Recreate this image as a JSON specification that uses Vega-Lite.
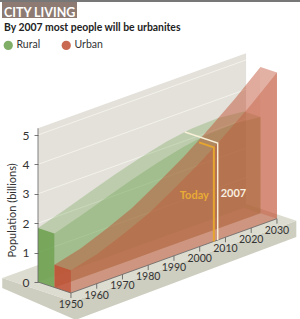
{"$schema":"https://vega.github.io/schema/vega-lite/v6.json","width":300,"height":319,"padding":0,"autosize":{"type":"none"},"background":"white",
"config":{"view":{"stroke":null},"font":"Lato"},
"title":{"text":"CITY LIVING","subtitle":"By 2007 most people will be urbanites","anchor":"start","frame":"group","offset":0,"dx":4,"dy":33,"font":"Lato","fontSize":12.5,"fontWeight":"bold","color":"#ffffff","subtitleFont":"Lato","subtitleFontSize":10.4,"subtitleFontWeight":"bold","subtitleColor":"#222222","subtitlePadding":3},
"datasets":{
"frame":[
{"part":"side","step":1,"year":1945.6,"billions":0,"depth":-1.48},{"part":"side","step":2,"year":1945.6,"billions":-0.34,"depth":-1.48},{"part":"side","step":3,"year":1946.7,"billions":-0.66,"depth":2.8},{"part":"side","step":4,"year":2032.4,"billions":-0.55,"depth":2.8},{"part":"side","step":5,"year":2032.4,"billions":0,"depth":2.8},{"part":"side","step":6,"year":1945.6,"billions":0,"depth":2.8},
{"part":"floor","step":1,"year":1945.6,"billions":0,"depth":-1.48},{"part":"floor","step":2,"year":1945.6,"billions":0,"depth":2.8},{"part":"floor","step":3,"year":2032.4,"billions":0,"depth":2.8},{"part":"floor","step":4,"year":2032.4,"billions":0,"depth":-1.48},
{"part":"wall","step":1,"year":1950,"billions":0,"depth":0},{"part":"wall","step":2,"year":1950,"billions":5.23,"depth":0},{"part":"wall","step":3,"year":2030.8,"billions":5.23,"depth":0},{"part":"wall","step":4,"year":2030.8,"billions":0,"depth":0},
{"part":"grid1","step":1,"year":1950,"billions":1,"depth":0},{"part":"grid1","step":2,"year":2030.8,"billions":1,"depth":0},
{"part":"grid2","step":1,"year":1950,"billions":2,"depth":0},{"part":"grid2","step":2,"year":2030.8,"billions":2,"depth":0},
{"part":"grid3","step":1,"year":1950,"billions":3,"depth":0},{"part":"grid3","step":2,"year":2030.8,"billions":3,"depth":0},
{"part":"grid4","step":1,"year":1950,"billions":4,"depth":0},{"part":"grid4","step":2,"year":2030.8,"billions":4,"depth":0},
{"part":"grid5","step":1,"year":1950,"billions":5,"depth":0},{"part":"grid5","step":2,"year":2030.8,"billions":5,"depth":0},
{"part":"edge","step":1,"year":1950,"billions":5.23,"depth":0},{"part":"edge","step":2,"year":1950,"billions":0,"depth":0},{"part":"edge","step":3,"year":1950,"billions":0,"depth":2},{"part":"edge","step":4,"year":2030,"billions":0,"depth":2},
{"part":"today","step":1,"year":2005.5,"billions":3.2,"depth":1.1},{"part":"today","step":2,"year":2005.5,"billions":3.2,"depth":2},{"part":"today","step":3,"year":2005.5,"billions":0,"depth":2},
{"part":"crossing","step":1,"year":2007,"billions":3.3,"depth":0},{"part":"crossing","step":2,"year":2007,"billions":3.3,"depth":2},{"part":"crossing","step":3,"year":2007,"billions":0,"depth":2}
],
"population":[
{"series":"Rural","year":1950,"billions":1.84},{"series":"Rural","year":1960,"billions":2.12},{"series":"Rural","year":1970,"billions":2.42},{"series":"Rural","year":1980,"billions":2.72},{"series":"Rural","year":1990,"billions":2.98},{"series":"Rural","year":2000,"billions":3.2},{"series":"Rural","year":2007,"billions":3.3},{"series":"Rural","year":2010,"billions":3.33},{"series":"Rural","year":2020,"billions":3.37},{"series":"Rural","year":2030,"billions":3.27},
{"series":"Urban","year":1950,"billions":0.77},{"series":"Urban","year":1960,"billions":1.0},{"series":"Urban","year":1970,"billions":1.35},{"series":"Urban","year":1980,"billions":1.75},{"series":"Urban","year":1990,"billions":2.28},{"series":"Urban","year":2000,"billions":2.85},{"series":"Urban","year":2007,"billions":3.3},{"series":"Urban","year":2010,"billions":3.5},{"series":"Urban","year":2020,"billions":4.2},{"series":"Urban","year":2030,"billions":4.97}
],
"labels":[{"label":"Today","year":2005.5,"billions":1.56,"depth":2},{"label":"2007","year":2007,"billions":1.56,"depth":2}]
},
"encoding":{
"x":{"field":"sx","type":"quantitative","scale":{"domain":[-14.757,101.75],"nice":false,"zero":false},"axis":null},
"y":{"field":"sy","type":"quantitative","scale":{"domain":[-1.2585,9.592],"nice":false,"zero":false},"axis":{"values":[0,1,2,3,4,5],"format":"d","offset":-38,"domain":false,"grid":false,"tickSize":4,"tickColor":"#555555","tickWidth":0.8,"labelPadding":5,"labelFont":"Lato","labelFontSize":12,"labelColor":"#333333","title":"Population (billions)","titleFont":"Lato","titleFontSize":11,"titleFontWeight":"normal","titleColor":"#333333","titleX":-21,"titleY":210,"zindex":1}}
},
"layer":[
{"data":{"name":"frame"},"transform":[{"calculate":"datum.year-1950+6.4*datum.depth","as":"sx"},{"calculate":"datum.billions+0.0316*(datum.year-1950)-0.187*datum.depth","as":"sy"}],
"layer":[
{"transform":[{"filter":"datum.part==='side'"}],"mark":{"type":"line","fill":"#cdcdc0","strokeWidth":0},"encoding":{"order":{"field":"step"}}},
{"transform":[{"filter":"datum.part==='floor'"}],"mark":{"type":"line","fill":"#dddcd0","strokeWidth":0},"encoding":{"order":{"field":"step"}}},
{"transform":[{"filter":"datum.part==='wall'"}],"mark":{"type":"line","fill":"#e3e1da","strokeWidth":0},"encoding":{"order":{"field":"step"}}},
{"transform":[{"filter":"indexof(datum.part,'grid')===0"}],"mark":{"type":"line","stroke":"#f3f2ec","strokeWidth":1},"encoding":{"detail":{"field":"part"},"order":{"field":"step"}}}
]},
{"data":{"name":"population"},"transform":[{"calculate":"[0,1,2]","as":"depth"},{"flatten":["depth"]},{"filter":"datum.series==='Rural'?datum.depth<2:datum.depth>0"},{"calculate":"datum.year-1950+6.4*datum.depth","as":"sx"},{"calculate":"datum.billions+0.0316*(datum.year-1950)-0.187*datum.depth","as":"sy"},{"calculate":"0.0316*(datum.year-1950)-0.187*datum.depth","as":"sy0"},{"calculate":"datum.sy0-0.17","as":"tickEnd"},{"calculate":"(datum.series==='Rural'?datum.depth===0:datum.depth===1)?datum.year:9999-datum.year","as":"rank"}],
"encoding":{"fill":{"field":"series","type":"nominal","scale":{"domain":["Rural","Urban"],"range":["#6aa04c","#bf4f32"]},"legend":{"orient":"none","legendX":3,"legendY":40,"direction":"horizontal","title":null,"symbolType":"circle","symbolSize":85,"symbolStrokeWidth":0,"symbolOpacity":0.85,"labelFont":"Lato","labelFontSize":10.5,"labelColor":"#333333","columnPadding":20,"labelOffset":3}}},
"layer":[
{"transform":[{"filter":"datum.series==='Rural'&&datum.depth===0"}],"mark":{"type":"area","orient":"vertical","fillOpacity":0.25},"encoding":{"y2":{"field":"sy0"}}},
{"transform":[{"filter":"datum.series==='Rural'"}],"mark":{"type":"line","fillOpacity":0.08,"strokeWidth":0},"encoding":{"order":{"field":"rank"}}},
{"transform":[{"filter":"datum.series==='Rural'&&datum.year===2030"}],"mark":{"type":"area","orient":"vertical","fillOpacity":0.25},"encoding":{"y2":{"field":"sy0"}}},
{"transform":[{"filter":"datum.series==='Rural'&&datum.depth===1"}],"mark":{"type":"area","orient":"vertical","fillOpacity":0.38},"encoding":{"y2":{"field":"sy0"}}},
{"transform":[{"filter":"datum.series==='Rural'&&datum.year===1950"}],"mark":{"type":"area","orient":"vertical","fillOpacity":0.85},"encoding":{"y2":{"field":"sy0"}}},
{"transform":[{"filter":"datum.series==='Urban'&&datum.depth===1"}],"mark":{"type":"area","orient":"vertical","fillOpacity":0.35},"encoding":{"y2":{"field":"sy0"}}},
{"transform":[{"filter":"datum.series==='Urban'"}],"mark":{"type":"line","fillOpacity":0.2,"strokeWidth":0},"encoding":{"order":{"field":"rank"}}},
{"transform":[{"filter":"datum.series==='Urban'&&datum.year===2030"}],"mark":{"type":"area","orient":"vertical","fillOpacity":0.3},"encoding":{"y2":{"field":"sy0"}}},
{"transform":[{"filter":"datum.series==='Urban'&&datum.depth===2"}],"mark":{"type":"area","orient":"vertical","fillOpacity":0.5},"encoding":{"y2":{"field":"sy0"}}},
{"transform":[{"filter":"datum.series==='Urban'&&datum.year===1950"}],"mark":{"type":"area","orient":"vertical","fillOpacity":0.85},"encoding":{"y2":{"field":"sy0"}}},
{"transform":[{"filter":"datum.series==='Urban'&&datum.depth===2&&datum.year%10===0"}],"mark":{"type":"rule","stroke":"#555555","strokeWidth":0.8},"encoding":{"fill":{"value":null},"y":{"field":"sy0","type":"quantitative"},"y2":{"field":"tickEnd"}}},
{"transform":[{"filter":"datum.series==='Urban'&&datum.depth===2&&datum.year%10===0"}],"mark":{"type":"text","font":"Lato","fontSize":10.5,"dy":12,"align":"center","baseline":"middle"},"encoding":{"fill":{"value":"#333333"},"y":{"field":"sy0","type":"quantitative"},"text":{"field":"year","type":"quantitative","format":"d"}}}
]},
{"data":{"name":"frame"},"transform":[{"calculate":"datum.year-1950+6.4*datum.depth","as":"sx"},{"calculate":"datum.billions+0.0316*(datum.year-1950)-0.187*datum.depth","as":"sy"}],
"layer":[
{"transform":[{"filter":"datum.part==='edge'"}],"mark":{"type":"line","stroke":"#666666","strokeWidth":0.8},"encoding":{"order":{"field":"step"}}},
{"transform":[{"filter":"datum.part==='today'"}],"mark":{"type":"line","stroke":"#e5a52f","strokeWidth":2},"encoding":{"order":{"field":"step"}}},
{"transform":[{"filter":"datum.part==='crossing'"}],"mark":{"type":"line","stroke":"#f8f0d8","strokeWidth":1.4},"encoding":{"order":{"field":"step"}}}
]},
{"data":{"name":"labels"},"transform":[{"calculate":"datum.year-1950+6.4*datum.depth","as":"sx"},{"calculate":"datum.billions+0.0316*(datum.year-1950)-0.187*datum.depth","as":"sy"}],
"layer":[
{"transform":[{"filter":"datum.label==='Today'"}],"mark":{"type":"text","font":"Lato","fontSize":11,"fontWeight":"bold","fill":"#e8ab35","align":"right","dx":-5},"encoding":{"text":{"field":"label"}}},
{"transform":[{"filter":"datum.label==='2007'"}],"mark":{"type":"text","font":"Lato","fontSize":11,"fontWeight":"bold","fill":"#f8f0e0","align":"left","dx":3},"encoding":{"text":{"field":"label"}}}
]},
{"data":{"values":[{"bar":"heading"}]},"mark":{"type":"rect","fill":"#8d7b73"},"encoding":{"x":{"value":2},"x2":{"value":77},"y":{"value":2},"y2":{"value":18}}},
{"data":{"values":[{"bar":"top"}]},"mark":{"type":"rect","fill":"#777777"},"encoding":{"x":{"value":0},"x2":{"value":300},"y":{"value":0},"y2":{"value":2}}}
]}
